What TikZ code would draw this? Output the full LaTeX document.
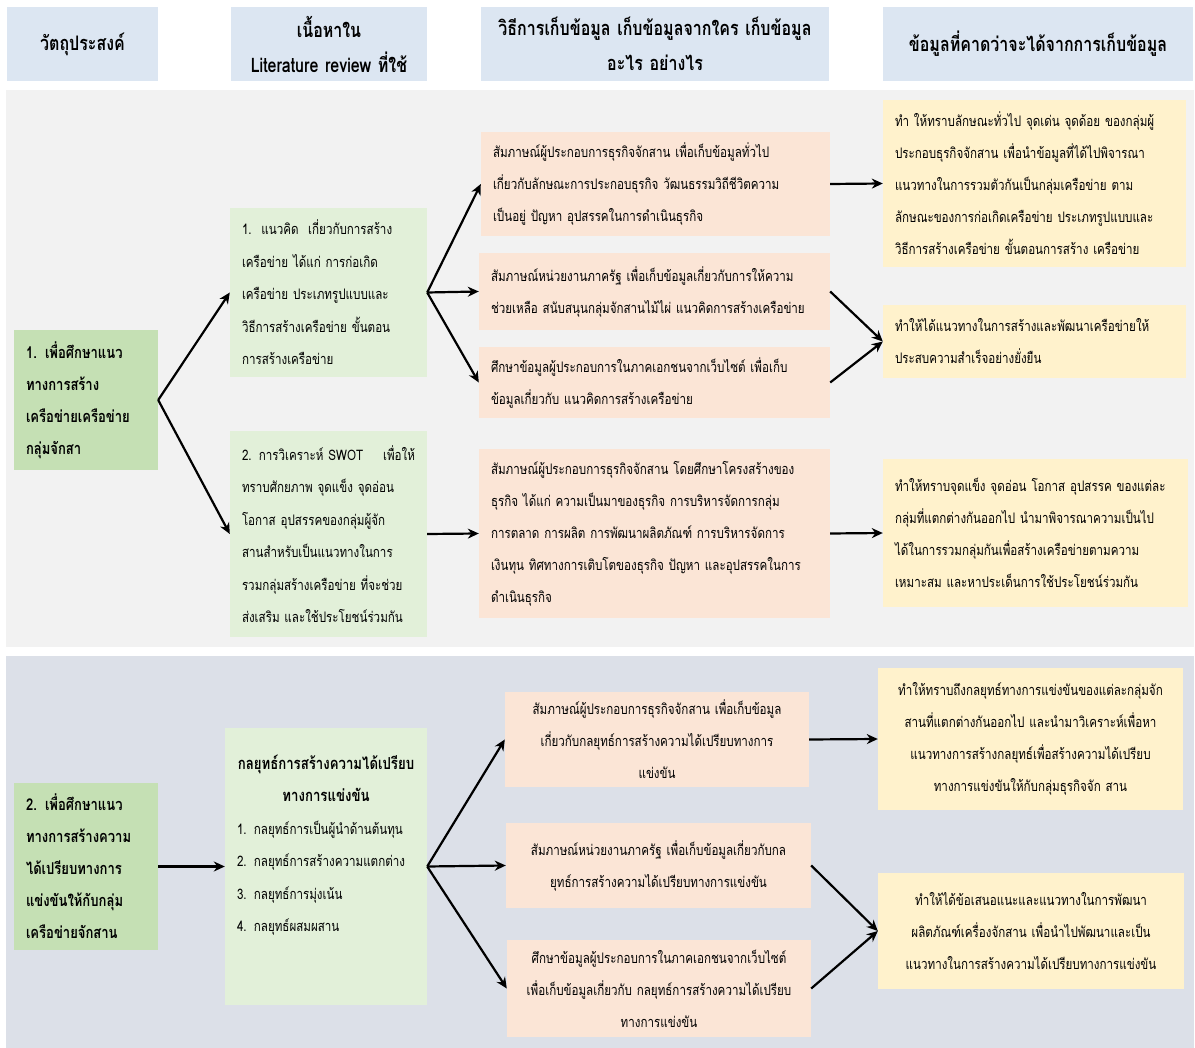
\documentclass[tikz,border=0pt]{standalone}
\usepackage{fontspec}
\setmainfont[Script=Thai,FakeStretch=0.8]{Loma}
\usetikzlibrary{arrows.meta}
\definecolor{hdr}{RGB}{220,230,242}
\definecolor{bgtop}{RGB}{242,242,242}
\definecolor{bgbot}{RGB}{220,224,232}
\definecolor{objg}{RGB}{197,224,180}
\definecolor{litg}{RGB}{226,240,217}
\definecolor{peach}{RGB}{251,229,214}
\definecolor{ylw}{RGB}{255,242,204}
\newcommand{\mybox}[7]{%
  \pgfmathsetmacro\bw{#5-#3}\pgfmathsetmacro\bh{#6-#4}%
  \pgfmathsetmacro\bcx{(#3+#5)/2}\pgfmathsetmacro\bcy{(#4+#6)/2}%
  \pgfmathsetmacro\btw{\bw-24}%
  \node[#1, minimum width=\bw pt, minimum height=\bh pt, text width=\btw pt, inner sep=0pt] (#2) at (\bcx,\bcy) {#7};}
\begin{document}
\begin{tikzpicture}[x=1pt,y=-1pt,
  boxbase/.style={rectangle, draw=none},
  hd/.style={boxbase, fill=hdr, align=center, font=\fontsize{20}{35}\selectfont\bfseries},
  ob/.style={boxbase, fill=objg, align=left, font=\fontsize{16.3}{32}\selectfont\bfseries},
  lt/.style={boxbase, fill=litg, align=left, font=\fontsize{14.5}{32.5}\selectfont},
  mt/.style={boxbase, fill=peach, align=left, font=\fontsize{14.5}{32}\selectfont},
  mc/.style={boxbase, fill=peach, align=center, font=\fontsize{14.5}{32}\selectfont},
  rs/.style={boxbase, fill=ylw, align=left, font=\fontsize{14.5}{32}\selectfont},
  rc/.style={boxbase, fill=ylw, align=center, font=\fontsize{14.5}{32}\selectfont},
  arr/.style={draw=black, line width=2.2pt, -{Stealth[length=11pt,width=10pt]}}]
\useasboundingbox (0,0) rectangle (1195,1048);
\fill[white] (0,0) rectangle (1195,1048);
\fill[bgtop] (6,90) rectangle (1194,647);
\fill[bgbot] (6,656) rectangle (1194,1048);
% headers
\mybox{hd}{h1}{7}{7}{158}{81}{วัตถุประสงค์}
\mybox{hd}{h2}{231}{7}{427}{81}{เนื้อหาใน\\Literature review ที่ใช้}
\mybox{hd}{h3}{481}{7}{829}{81}{วิธีการเก็บข้อมูล เก็บข้อมูลจากใคร เก็บข้อมูล\\อะไร อย่างไร}
\mybox{hd}{h4}{883}{7}{1193}{81}{ข้อมูลที่คาดว่าจะได้จากการเก็บข้อมูล}
% top section
\mybox{ob}{o1}{14}{330}{158}{470}{1. เพื่อศึกษาแนว\\ทางการสร้าง\\เครือข่ายเครือข่าย\\กลุ่มจักสา}
\mybox{lt}{l1}{230}{208}{427}{377}{1.\ \ แนวคิด\ \ เกี่ยวกับการสร้าง\\เครือข่าย ได้แก่ การก่อเกิด\\เครือข่าย ประเภทรูปแบบและ\\วิธีการสร้างเครือข่าย ขั้นตอน\\การสร้างเครือข่าย}
\mybox{lt}{l2}{230}{431}{427}{637}{2. การวิเคราะห์ SWOT\hfill เพื่อให้\\ทราบศักยภาพ จุดแข็ง จุดอ่อน\\โอกาส อุปสรรคของกลุ่มผู้จัก\\สานสำหรับเป็นแนวทางในการ\\รวมกลุ่มสร้างเครือข่าย ที่จะช่วย\\ส่งเสริม และใช้ประโยชน์ร่วมกัน}
\mybox{mt}{m1}{481}{132}{830}{236}{สัมภาษณ์ผู้ประกอบการธุรกิจจักสาน เพื่อเก็บข้อมูลทั่วไป\\เกี่ยวกับลักษณะการประกอบธุรกิจ วัฒนธรรมวิถีชีวิตความ\\เป็นอยู่ ปัญหา อุปสรรคในการดำเนินธุรกิจ}
\mybox{mt}{m2}{479}{253}{830}{330}{สัมภาษณ์หน่วยงานภาครัฐ เพื่อเก็บข้อมูลเกี่ยวกับการให้ความ\\ช่วยเหลือ สนับสนุนกลุ่มจักสานไม้ไผ่ แนวคิดการสร้างเครือข่าย}
\mybox{mt}{m3}{479}{347}{830}{418}{ศึกษาข้อมูลผู้ประกอบการในภาคเอกชนจากเว็บไซต์ เพื่อเก็บ\\ข้อมูลเกี่ยวกับ แนวคิดการสร้างเครือข่าย}
\mybox{mt}{m4}{479}{449}{830}{618}{สัมภาษณ์ผู้ประกอบการธุรกิจจักสาน โดยศึกษาโครงสร้างของ\\ธุรกิจ ได้แก่ ความเป็นมาของธุรกิจ การบริหารจัดการกลุ่ม\\การตลาด การผลิต การพัฒนาผลิตภัณฑ์ การบริหารจัดการ\\เงินทุน ทิศทางการเติบโตของธุรกิจ ปัญหา และอุปสรรคในการ\\ดำเนินธุรกิจ}
\mybox{rs}{r1}{883}{100}{1186}{267}{ทำ ให้ทราบลักษณะทั่วไป จุดเด่น จุดด้อย ของกลุ่มผู้\\ประกอบธุรกิจจักสาน เพื่อนำข้อมูลที่ได้ไปพิจารณา\\แนวทางในการรวมตัวกันเป็นกลุ่มเครือข่าย ตาม\\ลักษณะของการก่อเกิดเครือข่าย ประเภทรูปแบบและ\\วิธีการสร้างเครือข่าย ขั้นตอนการสร้าง เครือข่าย}
\mybox{rs}{r2}{883}{305}{1186}{378}{ทำให้ได้แนวทางในการสร้างและพัฒนาเครือข่ายให้\\ประสบความสำเร็จอย่างยั่งยืน}
\mybox{rs}{r3}{883}{459}{1188}{607}{ทำให้ทราบจุดแข็ง จุดอ่อน โอกาส อุปสรรค ของแต่ละ\\กลุ่มที่แตกต่างกันออกไป นำมาพิจารณาความเป็นไป\\ได้ในการรวมกลุ่มกันเพื่อสร้างเครือข่ายตามความ\\เหมาะสม และหาประเด็นการใช้ประโยชน์ร่วมกัน}
% bottom section
\mybox{ob}{o2}{14}{783}{158}{950}{2. เพื่อศึกษาแนว\\ทางการสร้างความ\\ได้เปรียบทางการ\\แข่งขันให้กับกลุ่ม\\เครือข่ายจักสาน}
\mybox{lt}{st}{225}{728}{427}{1005}{{\centering\fontsize{16.5}{32.5}\selectfont\bfseries กลยุทธ์การสร้างความได้เปรียบ\\ทางการแข่งขัน\par}1. กลยุทธ์การเป็นผู้นำด้านต้นทุน\\2. กลยุทธ์การสร้างความแตกต่าง\\3. กลยุทธ์การมุ่งเน้น\\4. กลยุทธ์ผสมผสาน\\[14pt]\mbox{}}
\mybox{mc}{m5}{505}{692}{809}{787}{สัมภาษณ์ผู้ประกอบการธุรกิจจักสาน เพื่อเก็บข้อมูล\\เกี่ยวกับกลยุทธ์การสร้างความได้เปรียบทางการ\\แข่งขัน}
\mybox{mc}{m6}{506}{823}{811}{908}{สัมภาษณ์หน่วยงานภาครัฐ เพื่อเก็บข้อมูลเกี่ยวกับกล\\ยุทธ์การสร้างความได้เปรียบทางการแข่งขัน}
\mybox{mc}{m7}{507}{940}{811}{1037}{ศึกษาข้อมูลผู้ประกอบการในภาคเอกชนจากเว็บไซต์\\เพื่อเก็บข้อมูลเกี่ยวกับ กลยุทธ์การสร้างความได้เปรียบ\\ทางการแข่งขัน}
\mybox{rc}{r4}{878}{668}{1183}{810}{ทำให้ทราบถึงกลยุทธ์ทางการแข่งขันของแต่ละกลุ่มจัก\\สานที่แตกต่างกันออกไป และนำมาวิเคราะห์เพื่อหา\\แนวทางการสร้างกลยุทธ์เพื่อสร้างความได้เปรียบ\\ทางการแข่งขันให้กับกลุ่มธุรกิจจัก สาน}
\mybox{rc}{r5}{878}{873}{1184}{989}{ทำให้ได้ข้อเสนอแนะและแนวทางในการพัฒนา\\ผลิตภัณฑ์เครื่องจักสาน เพื่อนำไปพัฒนาและเป็น\\แนวทางในการสร้างความได้เปรียบทางการแข่งขัน}
% connectors
\draw[arr] (o1.east) -- (l1.west);
\draw[arr] (o1.east) -- (l2.west);
\draw[arr] (l1.east) -- (m1.west);
\draw[arr] (l1.east) -- (m2.west);
\draw[arr] (l1.east) -- (m3.west);
\draw[arr] (l2.east) -- (m4.west);
\draw[arr] (m1.east) -- (r1.west);
\draw[arr] (m2.east) -- (r2.west);
\draw[arr] (m3.east) -- (r2.west);
\draw[arr] (m4.east) -- (r3.west);
\draw[arr] (o2.east) -- (st.west);
\draw[arr] (st.east) -- (m5.west);
\draw[arr] (st.east) -- (m6.west);
\draw[arr] (st.east) -- (m7.west);
\draw[arr] (m5.east) -- (r4.west);
\draw[arr] (m6.east) -- (r5.west);
\draw[arr] (m7.east) -- (r5.west);
\end{tikzpicture}
\end{document}
